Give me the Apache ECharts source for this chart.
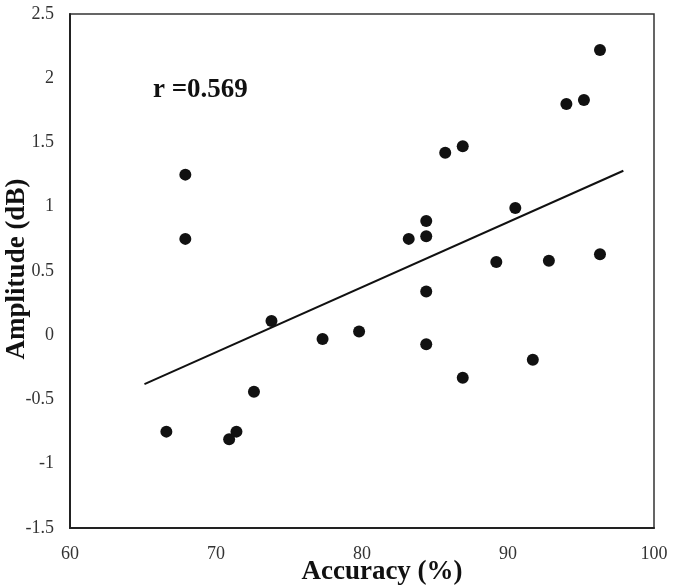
<!DOCTYPE html>
<html>
<head>
<meta charset="utf-8">
<script src="https://cdn.jsdelivr.net/npm/echarts@6/dist/echarts.min.js"></script>
<style>
  html, body { margin: 0; padding: 0; background: #fff; }
  #chart { width: 675px; height: 588px; }
</style>
</head>
<body>
<div id="chart"></div>
<script>
const accuracy = [66.6, 67.9, 67.9, 70.9, 71.4, 72.6, 73.8, 77.3, 79.8, 83.2, 84.4, 84.4, 84.4, 84.4, 85.7, 86.9, 86.9, 89.2, 90.5, 91.7, 92.8, 94.0, 95.2, 96.3, 96.3];
const amplitude = [-0.75, 1.25, 0.75, -0.81, -0.75, -0.44, 0.11, -0.03, 0.03, 0.75, 0.77, 0.89, 0.34, -0.07, 1.42, 1.47, -0.33, 0.57, 0.99, -0.19, 0.58, 1.80, 1.83, 0.63, 2.22];
const trendX = [65.1, 97.9];
const trendY = [-0.38, 1.28];
const xTicks = [60, 70, 80, 90, 100];
const rLabel = "r =0.569";

const points = accuracy.map((a, i) => [a, amplitude[i]]);
const trend = trendX.map((x, i) => [x, trendY[i]]);

const chart = echarts.init(document.getElementById("chart"));

const serif = "'Liberation Serif', 'DejaVu Serif', serif";

chart.setOption({
  backgroundColor: "#fff",
  animation: false,
  grid: {
    left: 70,
    top: 14,
    right: 21,
    bottom: 60,
    show: true,
    borderColor: "#333",
    borderWidth: 1.5,
  },
  xAxis: {
    type: "value",
    min: xTicks[0],
    max: xTicks[xTicks.length - 1],
    interval: 10,
    axisLine: { onZero: false, lineStyle: { color: "#222", width: 2 } },
    axisTick: { show: false },
    splitLine: { show: false },
    axisLabel: { color: "#333", fontFamily: serif, fontSize: 18, margin: 17 },
  },
  yAxis: {
    type: "value",
    min: -1.5,
    max: 2.5,
    interval: 0.5,
    axisLine: { show: true, onZero: false, lineStyle: { color: "#222", width: 2 } },
    axisTick: { show: false },
    splitLine: { show: false },
    axisLabel: { color: "#333", fontFamily: serif, fontSize: 18, margin: 16 },
  },
  graphic: [
    {
      type: "text",
      left: 153,
      top: 77,
      style: { text: rLabel, font: "bold 27px " + serif, fill: "#111" },
    },
    {
      type: "text",
      x: 382,
      y: 572,
      style: {
        text: "Accuracy (%)",
        font: "bold 27px " + serif,
        fill: "#111",
        align: "center",
        verticalAlign: "middle",
      },
    },
    {
      type: "text",
      x: 17,
      y: 269,
      rotation: Math.PI / 2,
      style: {
        text: "Amplitude (dB)",
        font: "bold 27px " + serif,
        fill: "#111",
        align: "center",
        verticalAlign: "middle",
      },
    },
  ],
  series: [
    {
      type: "line",
      data: trend,
      symbol: "none",
      lineStyle: { color: "#111", width: 2 },
      z: 2,
    },
    {
      type: "scatter",
      data: points,
      symbol: "circle",
      symbolSize: 12,
      itemStyle: { color: "#111", opacity: 1 },
      z: 3,
    },
  ],
});
</script>
</body>
</html>
